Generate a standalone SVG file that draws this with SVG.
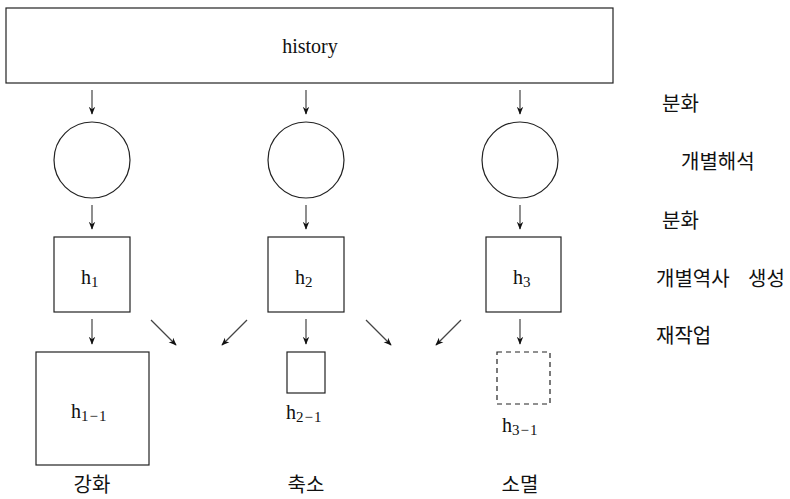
<svg xmlns="http://www.w3.org/2000/svg" width="790" height="499" viewBox="0 0 790 499">
<defs>
<marker id="ah" viewBox="0 0 10 10" refX="9" refY="5" markerWidth="8" markerHeight="8" markerUnits="userSpaceOnUse" orient="auto">
<path d="M0,1 L10,5 L0,9 L3,5 Z" fill="#111"/>
</marker>
<style>
.box{fill:#fff;stroke:#222;stroke-width:1.2}
.dash{fill:#fff;stroke:#222;stroke-width:1.2;stroke-dasharray:5 4}
.arr{stroke:#444;stroke-width:1.2;fill:none;marker-end:url(#ah)}
.serif{font-family:"Liberation Serif","DejaVu Serif",serif;fill:#111}
.h{font-family:"Liberation Serif","DejaVu Serif",serif;font-size:20px;fill:#111}
.sub{font-size:15px}
.sub2{font-size:15px;letter-spacing:1px}
.kr{font-family:"Noto Sans CJK KR","Noto Sans",sans-serif;font-size:20px;fill:#111}
</style>
</defs>
<rect width="790" height="499" fill="#fff"/>
<g id="history"><rect class="box" x="6" y="8" width="607" height="75"/><text class="serif" x="310" y="53" font-size="20" text-anchor="middle">history</text></g>
<g id="c1"><circle class="box" cx="92" cy="160" r="38"/></g>
<g id="c2"><circle class="box" cx="306" cy="160" r="38"/></g>
<g id="c3"><circle class="box" cx="520" cy="160" r="38"/></g>
<g id="h1"><rect class="box" x="54" y="237" width="76" height="75"/><text class="h" x="81" y="284">h<tspan class="sub" dy="3">1</tspan></text></g>
<g id="h2"><rect class="box" x="268" y="237" width="76" height="75"/><text class="h" x="295" y="284">h<tspan class="sub" dy="3">2</tspan></text></g>
<g id="h3"><rect class="box" x="486" y="237" width="75" height="75"/><text class="h" x="513" y="284">h<tspan class="sub" dy="3">3</tspan></text></g>
<g id="h11"><rect class="box" x="36" y="352" width="113" height="113"/><text class="h" x="71" y="418">h<tspan class="sub2" dy="3">1−1</tspan></text></g>
<g id="h21"><rect class="box" x="287" y="352" width="38" height="41"/><text class="h" x="286" y="419">h<tspan class="sub2" dy="3">2−1</tspan></text></g>
<g id="h31"><rect class="dash" x="497" y="352" width="53" height="52"/><text class="h" x="502" y="432">h<tspan class="sub2" dy="3">3−1</tspan></text></g>
<g id="connectors">
<line class="arr" x1="92" y1="90" x2="92" y2="114"/>
<line class="arr" x1="306" y1="90" x2="306" y2="114"/>
<line class="arr" x1="520" y1="90" x2="520" y2="114"/>
<line class="arr" x1="92" y1="205" x2="92" y2="229"/>
<line class="arr" x1="306" y1="205" x2="306" y2="229"/>
<line class="arr" x1="520" y1="205" x2="520" y2="229"/>
<line class="arr" x1="92" y1="319" x2="92" y2="344"/>
<line class="arr" x1="306" y1="319" x2="306" y2="344"/>
<line class="arr" x1="520" y1="319" x2="520" y2="344"/>
<line class="arr" x1="151" y1="320" x2="176" y2="345"/>
<line class="arr" x1="247" y1="320" x2="222" y2="345"/>
<line class="arr" x1="366" y1="320" x2="391" y2="345"/>
<line class="arr" x1="461" y1="320" x2="436" y2="345"/>
</g>
<g id="labels">
<text class="kr" x="662" y="111">분화</text>
<text class="kr" x="681" y="169">개별해석</text>
<text class="kr" x="662" y="228">분화</text>
<text class="kr" x="656" y="286">개별역사<tspan x="748">생성</tspan></text>
<text class="kr" x="656" y="343">재작업</text>
<text class="kr" x="92" y="492" text-anchor="middle">강화</text>
<text class="kr" x="306" y="492" text-anchor="middle">축소</text>
<text class="kr" x="520" y="492" text-anchor="middle">소멸</text>
</g>
</svg>
